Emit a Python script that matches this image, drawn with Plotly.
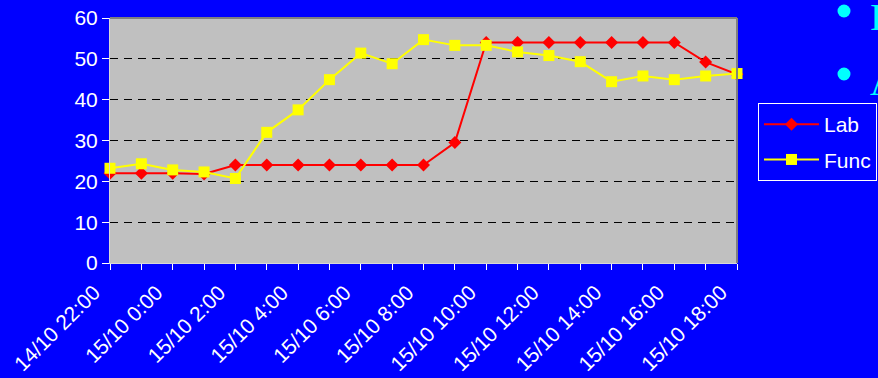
import plotly.graph_objects as go

times = ["14/10 22:00", "14/10 23:00", "15/10 0:00", "15/10 1:00", "15/10 2:00",
         "15/10 3:00", "15/10 4:00", "15/10 5:00", "15/10 6:00", "15/10 7:00",
         "15/10 8:00", "15/10 9:00", "15/10 10:00", "15/10 11:00", "15/10 12:00",
         "15/10 13:00", "15/10 14:00", "15/10 15:00", "15/10 16:00", "15/10 17:00",
         "15/10 18:00"]
tick_text = [t if i % 2 == 0 else "" for i, t in enumerate(times)]

lab = [22.0, 22.0, 22.0, 21.8, 24.0, 24.0, 24.0, 24.0, 24.0, 24.0, 24.0, 29.5,
       54.0, 54.0, 54.0, 54.0, 54.0, 54.0, 54.0, 49.2, 46.2]
func = [23.2, 24.3, 22.8, 22.3, 20.7, 32.0, 37.5, 44.9, 51.4, 48.8, 54.7, 53.3,
        53.3, 51.7, 50.8, 49.3, 44.4, 45.8, 44.9, 45.8, 46.4]

y_ticks = [0, 10, 20, 30, 40, 50, 60]

FONT = "Liberation Sans, Arial, sans-serif"
BLUE = "#0000FF"
FS = 21

fig = go.Figure()
fig.add_trace(go.Scatter(
    x=times, y=lab, name="Lab", mode="lines+markers", legendgroup="a",
    line=dict(color="#FF0000", width=2),
    marker=dict(symbol="diamond", size=10, color="#FF0000"),
    cliponaxis=False))
fig.add_trace(go.Scatter(
    x=times, y=func, name="Func", mode="lines+markers", legendgroup="b",
    line=dict(color="#FFFF00", width=2),
    marker=dict(symbol="square", size=11, color="#FFFF00"),
    cliponaxis=False))

fig.update_layout(
    width=878, height=378,
    margin=dict(l=110, r=141, t=18, b=115, autoexpand=False),
    paper_bgcolor=BLUE, plot_bgcolor="#C0C0C0",
    font=dict(family=FONT, color="white", size=FS),
    showlegend=True,
    legend=dict(x=1.0335, y=0.653, xanchor="left", yanchor="top",
                bgcolor=BLUE, bordercolor="white", borderwidth=1,
                font=dict(size=FS, color="white", family=FONT),
                tracegroupgap=5, itemwidth=55),
    xaxis=dict(type="category", categoryorder="array", categoryarray=times,
               range=[0, len(times) - 1], tickmode="array", tickvals=times,
               ticktext=tick_text, tickangle=-45, ticks="outside", ticklen=6,
               tickcolor="white", tickwidth=1, showgrid=False, zeroline=False,
               showline=True, linecolor="#D8D8D8", linewidth=1, automargin=False,
               ticklabelshift=-16, ticklabelstandoff=2,
               tickfont=dict(size=FS, color="white", family=FONT)),
    xaxis2=dict(type="category", categoryorder="array", categoryarray=times,
                range=[0, len(times) - 1], tickmode="array", tickvals=times,
                overlaying="x", anchor="y", side="bottom", ticks="inside",
                ticklen=6, tickcolor="white", tickwidth=1, showticklabels=False,
                showgrid=False, zeroline=False, showline=False, automargin=False),
    yaxis=dict(range=[0, 60], tickvals=y_ticks, ticks="outside", ticklen=7,
               tickcolor="white", showgrid=True, gridcolor="black",
               griddash="8px,6px", gridwidth=1, zeroline=False,
               showline=True, linecolor="#D8D8D8", linewidth=1, automargin=False,
               tickfont=dict(size=FS, color="white", family=FONT)),
    shapes=[
        dict(type="line", xref="paper", yref="paper", x0=0, x1=1, y0=1, y1=1,
             line=dict(color="#808080", width=2)),
        dict(type="line", xref="paper", yref="paper", x0=1, x1=1, y0=0, y1=1,
             line=dict(color="#808080", width=2)),
        dict(type="circle", xref="paper", yref="paper", x0=1.1603, x1=1.1810,
             y0=1.0020, y1=1.0551, fillcolor="#00FFFF", line=dict(width=0)),
        dict(type="circle", xref="paper", yref="paper", x0=1.1603, x1=1.1810,
             y0=0.7449, y1=0.7980, fillcolor="#00FFFF", line=dict(width=0)),
    ],
    annotations=[
        dict(text="I", xref="paper", yref="paper", x=1.2089, y=1.004,
             xanchor="left", yanchor="middle", showarrow=False,
             font=dict(family="Liberation Serif, serif", size=38, color="#00FFFF")),
        dict(text="A", xref="paper", yref="paper", x=1.2089, y=0.739,
             xanchor="left", yanchor="middle", showarrow=False,
             font=dict(family="Liberation Serif, serif", size=38, color="#00FFFF")),
    ],
)

fig.write_html(
    "out.html",
    config={"displayModeBar": False},
    post_script="document.body.style.margin='0';document.body.style.background='#0000FF';"
                "document.documentElement.style.overflow='hidden';",
)
